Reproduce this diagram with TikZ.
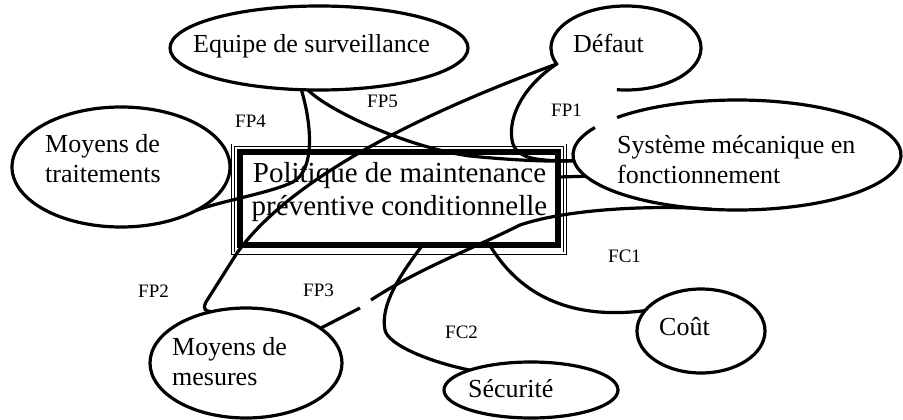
\documentclass[tikz,border=0pt]{standalone}
\usepackage{fontspec}
\setmainfont{Liberation Serif}
\usetikzlibrary{shapes.geometric}
\begin{document}
\begin{tikzpicture}[x=1pt,y=-1pt,
  wire/.style={line width=3.2pt, line cap=round},
  oval/.style={ellipse, draw, line width=3.2pt, inner sep=0pt, outer sep=0pt},
  txt/.style={inner sep=0pt, anchor=base west, font=\fontsize{26}{29.5}\selectfont, align=left},
  fn/.style={inner sep=0pt, anchor=base west, font=\fontsize{19}{22}\selectfont}]
\useasboundingbox (0,0) rectangle (903,420);

% external elements
\node[oval, minimum width=298pt, minimum height=84pt] (equipe) at (319,48) {};
\node[oval, draw=none, minimum width=150pt, minimum height=84pt] (defaut) at (626,48) {};
\draw[line width=3.2pt] ([shift={(-97:75pt and 42pt)}]defaut.center)
  arc[start angle=-97, end angle=204, x radius=75pt, y radius=42pt];
\node[oval, draw=none, minimum width=328pt, minimum height=110pt] (systeme) at (737,155) {};
\draw[line width=3.2pt] ([shift={(150:164pt and 55pt)}]systeme.center)
  arc[start angle=150, end angle=497, x radius=164pt, y radius=55pt];
\node[oval, minimum width=218pt, minimum height=120pt] (trait) at (121,167) {};
\node[oval, minimum width=192pt, minimum height=110pt] (mesures) at (246,363) {};
\node[oval, minimum width=174pt, minimum height=56pt] (securite) at (531,390) {};
\node[oval, minimum width=128pt, minimum height=84pt] (cout) at (701,331) {};

% product box with its double frame
\node[draw, line width=6pt, inner sep=0pt, outer sep=0pt,
      minimum width=318.3pt, minimum height=93pt] (box) at (399.15,198.5) {};
\draw[double, line width=0.8pt, double distance=2pt]
  ([xshift=-7pt, yshift=6.7pt]box.north west) rectangle ([xshift=6.7pt, yshift=-8.3pt]box.south east);
% (the base anchor of a two-line text sits on its last line)
\node[inner sep=0pt, anchor=base, align=center, font=\fontsize{29}{33}\selectfont]
  (boxtext) at (399.5,215) {Politique de maintenance\\préventive conditionnelle};

% element texts
\node[txt] (t-equipe) at (193,53) {Equipe de surveillance};
\node[txt] (t-defaut) at (573,53) {Défaut};
\node[txt] (t-trait) at (45,182) {Moyens de\\traitements};
\node[txt] (t-systeme) at (617,183) {Système mécanique en\\fonctionnement};
\node[txt] (t-mesures) at (172,385) {Moyens de\\mesures};
\node[txt] (t-securite) at (468,397) {Sécurité};
\node[txt] (t-cout) at (659,335) {Coût};

% connectors
\draw[wire] (equipe.-113) .. controls (312,125) and (315,170) .. (293,182)
  .. controls (270,193) and (225,200) .. (trait.-30);
\draw[wire] (equipe.-105) .. controls (330,112) and (410,148) .. (470,156)
  .. controls (510,160) and (550,162) .. (systeme.182);
\draw[wire] (defaut.-167) .. controls (450,103) and (297,169) .. (237,253)
  -- (206,302) .. controls (202,310) and (206,311) .. (mesures.124);
\draw[wire] (defaut.-167) .. controls (525,85) and (508,115) .. (512,140)
  .. controls (515,160) and (540,161) .. (systeme.182);
% FP3 link, drawn with its small break
\coordinate (fp3a) at (360,308);
\coordinate (fp3b) at (371,300);
\draw[wire, line cap=butt] (mesures.25) -- (fp3a);
\draw[wire, line cap=butt] (fp3b) .. controls (420,268) and (470,250) .. (520,225)
  .. controls (570,208) and (660,205) .. (systeme.-115);
\draw[wire] ([xshift=90.5pt]box.south) .. controls (512,282) and (555,322) .. (cout.160);
\draw[wire] ([xshift=23.5pt]box.south) .. controls (400,275) and (380,305) .. (385,330)
  .. controls (388,345) and (430,362) .. (securite.162);
\draw[wire] ([yshift=21.5pt]box.east) -- (systeme.188);

% function labels
\node[fn] (fp1) at (551,117) {FP1};
\node[fn] (fp2) at (138,297) {FP2};
\node[fn] (fp3) at (303,296) {FP3};
\node[fn] (fp4) at (235,128) {FP4};
\node[fn] (fp5) at (367,107) {FP5};
\node[fn] (fc1) at (608,262) {FC1};
\node[fn] (fc2) at (445,338) {FC2};
\end{tikzpicture}
\end{document}
